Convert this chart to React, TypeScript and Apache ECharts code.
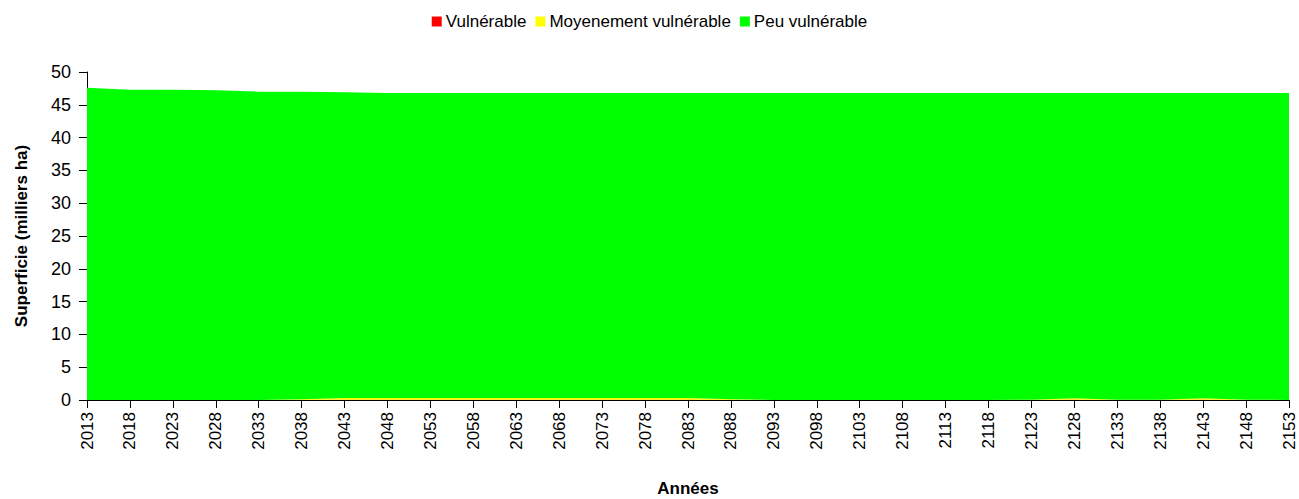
import React, { useEffect, useRef } from "react";
import * as echarts from "echarts";

const years: string[] = [
  "2013","2018","2023","2028","2033","2038","2043","2048","2053","2058",
  "2063","2068","2073","2078","2083","2088","2093","2098","2103","2108",
  "2113","2118","2123","2128","2133","2138","2143","2148","2153",
];
const vulnerable: number[] = [
  0, 0, 0, 0, 0, 0, 0.05, 0.05, 0.05, 0.05,
  0.05, 0.05, 0.05, 0.05, 0.05, 0, 0, 0, 0, 0,
  0, 0, 0, 0.05, 0, 0, 0.05, 0, 0,
];
const moyenement: number[] = [
  0, 0, 0, 0, 0, 0.1, 0.25, 0.25, 0.25, 0.25,
  0.25, 0.25, 0.25, 0.25, 0.25, 0.1, 0, 0, 0, 0,
  0, 0, 0.05, 0.2, 0.05, 0.05, 0.2, 0.05, 0,
];
const peu: number[] = [
  47.6, 47.3, 47.3, 47.2, 47.0, 46.9, 46.6, 46.5, 46.5, 46.5,
  46.5, 46.5, 46.5, 46.5, 46.5, 46.7, 46.8, 46.8, 46.8, 46.8,
  46.8, 46.8, 46.75, 46.55, 46.75, 46.75, 46.55, 46.75, 46.8,
];

const FONT = "Liberation Sans, Arial, sans-serif";

export default function App() {
  const ref = useRef<HTMLDivElement>(null);
  useEffect(() => {
    if (!ref.current) return;
    const chart = echarts.init(ref.current, null, { renderer: "svg" });
    const mk = (name: string, data: number[], color: string) => ({
      name,
      type: "line",
      stack: "total",
      data,
      symbol: "none",
      lineStyle: { width: 0 },
      areaStyle: { color, opacity: 1 },
      itemStyle: { color },
    });
    chart.setOption({
      animation: false,
      textStyle: { fontFamily: FONT },
      legend: {
        top: 8,
        left: "center",
        itemWidth: 10,
        itemHeight: 10,
        itemGap: 9,
        icon: "rect",
        textStyle: { fontSize: 17, color: "#000", fontFamily: FONT, padding: [0, 0, 0, -1] },
        data: ["Vulnérable", "Moyenement vulnérable", "Peu vulnérable"],
      },
      grid: { left: 87, right: 10, top: 72, bottom: 99, outerBoundsMode: "none", containLabel: false },
      xAxis: {
        type: "category",
        data: years,
        boundaryGap: false,
        name: "Années",
        nameLocation: "middle",
        nameGap: 80,
        nameTextStyle: { fontSize: 17, fontWeight: "bold", color: "#000", fontFamily: FONT },
        axisLine: { lineStyle: { color: "#000", width: 1 } },
        axisTick: { show: true, length: 8, inside: false, interval: 0, lineStyle: { color: "#000" } },
        axisLabel: { rotate: 90, interval: 0, fontSize: 17, color: "#000", margin: 12, fontFamily: FONT },
        splitLine: { show: false },
      },
      yAxis: {
        type: "value",
        min: 0,
        max: 50,
        interval: 5,
        name: "Superficie (milliers ha)",
        nameLocation: "middle",
        nameGap: 57,
        nameRotate: 90,
        nameTextStyle: { fontSize: 17, fontWeight: "bold", color: "#000", fontFamily: FONT },
        axisLine: { show: true, lineStyle: { color: "#000", width: 1 } },
        axisTick: { show: true, length: 8, inside: false, lineStyle: { color: "#000" } },
        axisLabel: { fontSize: 18, color: "#000", margin: 16, fontFamily: FONT },
        splitLine: { show: false },
      },
      series: [
        mk("Vulnérable", vulnerable, "#ff0000"),
        mk("Moyenement vulnérable", moyenement, "#ffff00"),
        mk("Peu vulnérable", peu, "#00ff00"),
      ],
    });
    return () => chart.dispose();
  }, []);
  return <div ref={ref} style={{ width: 1299, height: 499, position: "absolute", left: 0, top: 0 }} />;
}
